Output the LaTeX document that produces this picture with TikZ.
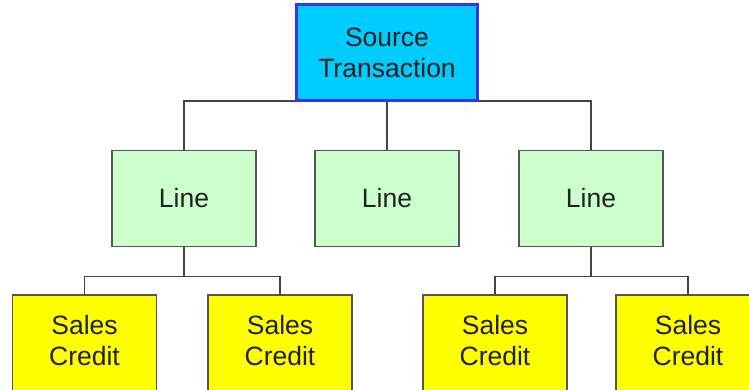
\documentclass[tikz,border=0pt]{standalone}
\usepackage{fontspec}
\setmainfont{Liberation Sans}
\usetikzlibrary{positioning}
\definecolor{cyanfill}{HTML}{00CCFF}
\definecolor{blueborder}{HTML}{3535F0}
\definecolor{greenfill}{HTML}{CCFFCC}
\definecolor{yellowfill}{HTML}{FFFF00}
\definecolor{edgegray}{HTML}{555555}
\definecolor{textcol}{HTML}{202020}
\tikzset{
  boxbase/.style={rectangle, draw=edgegray, line width=1.7pt, inner sep=0pt,
    text=textcol, font=\fontsize{26.5}{31}\selectfont, align=center},
  topbox/.style={boxbase, fill=cyanfill, draw=blueborder, line width=2pt,
    minimum width=180pt, minimum height=95pt},
  linebox/.style={boxbase, fill=greenfill, minimum width=144pt, minimum height=96pt},
  salesbox/.style={boxbase, fill=yellowfill, minimum width=144pt, minimum height=110pt},
  txt/.style={inner sep=0pt, text=textcol, font=\fontsize{26.5}{31}\selectfont, align=center},
  conn/.style={draw=edgegray!80!black, line width=1.6pt}
}
\begin{document}
\begin{tikzpicture}[x=1pt,y=1pt]
\clip (0,0) rectangle (749,-389);
\useasboundingbox (0,0) rectangle (749,-389);
% top
\node[topbox] (top) at (387,-52.5) {Source\\Transaction};
% lines
\node[linebox] (l1) at (184,-198.5) {Line};
\node[linebox] (l2) at (387,-198.5) {Line};
\node[linebox] (l3) at (591,-198.5) {Line};
% sales credit boxes
\node[salesbox, anchor=north] (s1) at (84.5,-294) {};
\node[salesbox, anchor=north] (s2) at (280,-294) {};
\node[salesbox, anchor=north] (s3) at (495,-294) {};
\node[salesbox, anchor=north] (s4) at (688,-294) {};
\node[txt] (t1) at (84.5,-340.5) {Sales\\Credit};
\node[txt] (t2) at (280,-340.5) {Sales\\Credit};
\node[txt] (t3) at (495,-340.5) {Sales\\Credit};
\node[txt] (t4) at (688,-340.5) {Sales\\Credit};
% connectors top
\draw[conn] (l1.north) |- (top.south);
\draw[conn] (l3.north) |- (top.south);
\draw[conn] (top.south) -- (l2.north);
\draw[conn] (top.south -| l1.north) -- (top.south -| l3.north);
% connectors bottom
\draw[conn] (l1.south) -- ++(0,-29) -| (s1.north);
\draw[conn] (l1.south) -- ++(0,-29) -| (s2.north);
\draw[conn] (l3.south) -- ++(0,-29) -| (s3.north);
\draw[conn] (l3.south) -- ++(0,-29) -| (s4.north);
% redraw top box border on top of bus
\draw[draw=blueborder, line width=2pt] (top.south west) rectangle (top.north east);
\end{tikzpicture}
\end{document}
